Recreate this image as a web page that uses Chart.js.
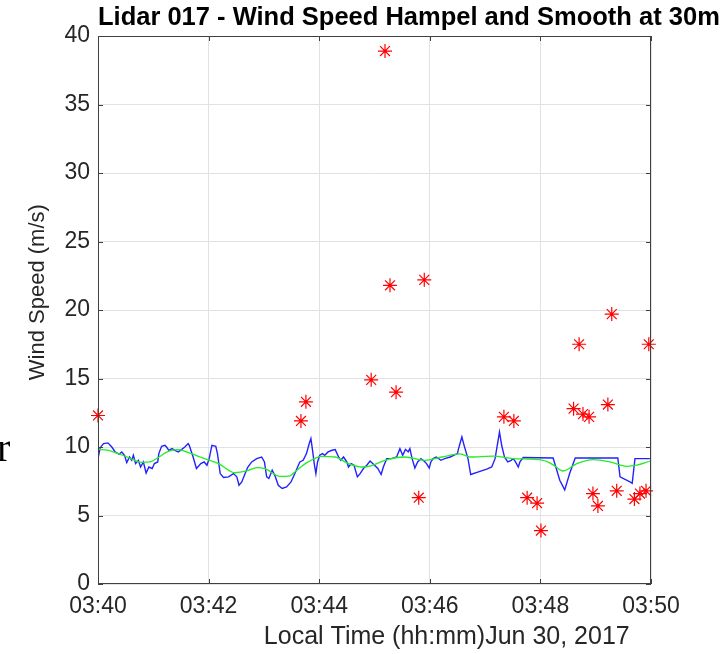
<!DOCTYPE html>
<html>
<head>
<meta charset="utf-8">
<script src="https://cdn.jsdelivr.net/npm/chart.js@4/dist/chart.umd.min.js"></script>
<style>
html, body { margin: 0; padding: 0; background: #fff; }
#wrap { width: 728px; height: 654px; }
</style>
</head>
<body>
<div id="wrap"><canvas id="windChart" width="728" height="654"></canvas></div>
<script>
// ==========================
// DATA (time = minutes after 03:40)
// ==========================
const rawTime = [
    0.00, 0.04, 0.10, 0.18, 0.25, 0.31, 0.38, 0.43, 0.48, 0.52,
    0.57, 0.61, 0.64, 0.68, 0.73, 0.77, 0.82, 0.87, 0.92, 0.98,
    1.02, 1.08, 1.10, 1.15, 1.21, 1.24, 1.28, 1.34, 1.39, 1.45,
    1.51, 1.57, 1.63, 1.65, 1.72, 1.78, 1.86, 1.92, 1.97, 2.01,
    2.06, 2.13, 2.16, 2.21, 2.27, 2.36, 2.45, 2.51, 2.55, 2.60,
    2.66, 2.71, 2.78, 2.87, 2.96, 3.01, 3.05, 3.09, 3.15, 3.20,
    3.26, 3.33, 3.41, 3.49, 3.56, 3.61, 3.65, 3.71, 3.77, 3.82,
    3.85, 3.88, 3.91, 3.94, 3.97, 4.01, 4.06, 4.10, 4.16, 4.23,
    4.29, 4.35, 4.39, 4.44, 4.50, 4.53, 4.58, 4.63, 4.69, 4.74,
    4.80, 4.86, 4.92, 5.00, 5.06, 5.12, 5.16, 5.22, 5.31, 5.40,
    5.46, 5.51, 5.56, 5.61, 5.64, 5.68, 5.73, 5.78, 5.84, 5.90,
    5.94, 5.99, 6.02, 6.06, 6.12, 6.20, 6.27, 6.37, 6.44, 6.50,
    6.52, 6.58, 6.62, 6.69, 6.74, 6.88, 7.03, 7.12, 7.18, 7.23,
    7.26, 7.30, 7.35, 7.41, 7.47, 7.51, 7.55, 7.60, 7.63, 7.69,
    8.23, 8.35, 8.44, 8.53, 8.63, 9.40, 9.44, 9.62, 9.66, 9.71, 9.98
];
const rawSpeed = [
    9.15, 9.95, 10.25, 10.3, 10.0, 9.64, 9.47, 9.64, 9.4, 8.86,
    9.27, 9.03, 9.4, 8.79, 9.03, 8.54, 8.91, 8.1, 8.54, 8.43,
    8.79, 8.91, 9.52, 10.05, 10.12, 10.0, 9.76, 9.88, 9.76, 9.64,
    9.81, 10.0, 10.25, 10.12, 9.27, 8.43, 8.79, 8.91, 8.67, 9.15,
    10.12, 10.05, 9.52, 8.06, 7.77, 7.82, 8.06, 7.82, 7.21, 7.45,
    8.06, 8.54, 8.91, 9.15, 9.27, 8.91, 7.82, 7.7, 8.3, 7.9,
    7.21, 6.97, 7.09, 7.45, 8.06, 8.54, 8.91, 9.03, 9.52, 10.25,
    10.61, 9.76, 8.79, 8.06, 8.91, 9.4, 9.52, 9.4, 9.64, 9.76,
    9.81, 9.27, 9.03, 9.27, 8.91, 8.54, 8.79, 8.67, 7.82, 8.06,
    8.43, 8.67, 8.97, 8.67, 8.43, 7.99, 8.54, 9.15, 9.15, 9.27,
    9.88, 9.4, 9.83, 9.64, 9.88, 9.15, 8.47, 8.91, 9.15, 8.96,
    8.79, 8.47, 8.91, 9.15, 9.27, 9.03, 9.15, 9.27, 9.4, 9.52,
    9.88, 10.73, 10.12, 9.15, 7.99, 8.18, 8.38, 8.54, 9.15, 10.36,
    11.09, 10.12, 9.27, 8.91, 9.03, 9.15, 8.91, 8.54, 8.91, 9.23,
    9.2, 7.57, 6.87, 8.08, 9.2, 9.2, 7.82, 7.45, 7.35, 9.15, 9.15
];

const smoothTime = [
    0.00, 0.19, 0.37, 0.55, 0.79, 0.94, 1.09, 1.27, 1.45, 1.66,
    1.93, 2.18, 2.48, 2.69, 2.87, 3.02, 3.29, 3.47, 3.56, 3.80,
    4.05, 4.29, 4.53, 4.77, 4.92, 5.19, 5.55, 5.91, 6.22, 6.55,
    6.73, 7.15, 7.51, 8.05, 8.23, 8.41, 8.66, 8.96, 9.26, 9.56,
    9.74, 9.98
];
const smoothSpeed = [
    9.82, 9.76, 9.52, 9.23, 8.88, 8.91, 9.23, 9.68, 9.81, 9.55,
    9.15, 8.79, 8.12, 8.25, 8.5, 8.43, 7.85, 7.9, 8.18, 8.91,
    9.32, 9.27, 8.79, 8.54, 8.6, 9.03, 9.27, 9.03, 9.27, 9.5,
    9.27, 9.33, 9.15, 9.03, 8.7, 8.25, 8.79, 9.08, 8.91, 8.59,
    8.67, 8.96
];

const outlierTime = [
    0.00, 5.19, 5.28, 5.90, 4.94, 5.39, 3.76, 3.67, 5.80, 7.34,
    7.52, 7.76, 7.94, 8.01, 8.60, 8.77, 8.88, 8.70, 9.29, 9.96,
    9.22, 8.95, 9.04, 9.38, 9.70, 9.80, 9.91
];
const outlierSpeed = [
    12.3, 38.9, 21.8, 22.2, 14.9, 14.0, 13.3, 11.9, 6.3, 12.2,
    11.9, 6.3, 5.9, 3.9, 12.8, 12.4, 12.2, 17.5, 19.7, 17.5,
    13.1, 6.6, 5.7, 6.8, 6.2, 6.6, 6.8
];

const xTicks = [0, 2, 4, 6, 8, 10];
const xTickLabels = ["03:40", "03:42", "03:44", "03:46", "03:48", "03:50"];
const yTicks = [0, 5, 10, 15, 20, 25, 30, 35, 40];

const titleText = "Lidar 017 - Wind Speed Hampel and Smooth at 30m";
const xTitleText = "Local Time (hh:mm)";
const dateText = "Jun 30, 2017";
const yTitleText = "Wind Speed (m/s)";
const strayText = "r";

// ==========================
// HELPERS
// ==========================
const toPoints = (xs, ys) => xs.map((x, i) => ({ x, y: ys[i] }));
const FONT = '"Liberation Sans", Arial, sans-serif';
const TEXT_COLOR = "#262626";

// frame, inward ticks, title, labels, date and stray glyph
const framePlugin = {
    id: "frame",
    afterDraw(chart) {
        const { ctx, chartArea: a, scales } = chart;
        const x = scales.x, y = scales.y;
        ctx.save();
        ctx.strokeStyle = "#404040";
        ctx.lineWidth = 1;
        ctx.strokeRect(Math.round(a.left) + 0.5, Math.round(a.top) + 0.5,
            Math.round(a.width) - 1, Math.round(a.height) - 1);
        ctx.beginPath();
        xTicks.forEach(v => {
            const px = Math.round(x.getPixelForValue(v)) + 0.5;
            ctx.moveTo(px, a.bottom); ctx.lineTo(px, a.bottom - 5);
            ctx.moveTo(px, a.top); ctx.lineTo(px, a.top + 5);
        });
        yTicks.forEach(v => {
            const py = Math.round(y.getPixelForValue(v)) + 0.5;
            ctx.moveTo(a.left, py); ctx.lineTo(a.left + 5, py);
            ctx.moveTo(a.right, py); ctx.lineTo(a.right - 5, py);
        });
        ctx.stroke();

        // title, left-aligned with the plot box
        ctx.font = "bold 25.5px " + FONT;
        ctx.fillStyle = "#000";
        ctx.textAlign = "left";
        ctx.textBaseline = "middle";
        ctx.fillText(titleText, a.left, a.top / 2);

        // y label (sits a bit above the axis middle, as in the original)
        ctx.save();
        ctx.translate(38, y.getPixelForValue(21.3));
        ctx.rotate(-Math.PI / 2);
        ctx.font = "22px " + FONT;
        ctx.fillStyle = TEXT_COLOR;
        ctx.textAlign = "center";
        ctx.fillText(yTitleText, 0, 0);
        ctx.restore();

        // x label + date
        ctx.font = "25px " + FONT;
        const labelW = ctx.measureText(xTitleText).width;
        const cx = (a.left + a.right) / 2;
        ctx.fillStyle = TEXT_COLOR;
        ctx.textAlign = "center";
        ctx.fillText(xTitleText, cx, x.bottom - 17);
        ctx.textAlign = "left";
        ctx.fillText(dateText, cx + labelW / 2, x.bottom - 17);

        // cut-off glyph at the left edge
        ctx.font = "40px \"Liberation Serif\", serif";
        ctx.fillStyle = "#000";
        ctx.textBaseline = "alphabetic";
        ctx.fillText(strayText, -3, y.getPixelForValue(9));
        ctx.restore();
    }
};

// ==========================
// CHART
// ==========================
new Chart(document.getElementById("windChart"), {
    type: "line",
    data: {
        datasets: [
            {
                label: "Outliers",
                data: toPoints(outlierTime, outlierSpeed),
                showLine: false,
                pointStyle: "star",
                pointRadius: 7,
                pointBorderColor: "#ff0000",
                pointBorderWidth: 1.2,
                pointBackgroundColor: "#ff0000",
                clip: false
            },
            {
                label: "Smooth",
                data: toPoints(smoothTime, smoothSpeed),
                borderColor: "#22ee22",
                borderWidth: 1.3,
                pointRadius: 0,
                cubicInterpolationMode: "monotone"
            },
            {
                label: "Hampel",
                data: toPoints(rawTime, rawSpeed),
                borderColor: "#2222ff",
                borderWidth: 1.4,
                pointRadius: 0,
                tension: 0
            }
        ]
    },
    options: {
        responsive: false,
        animation: false,
        devicePixelRatio: 1,
        layout: { padding: { left: 0, right: 77, top: 36, bottom: 0 } },
        plugins: {
            legend: { display: false },
            tooltip: { enabled: false },
            title: { display: false }
        },
        scales: {
            x: {
                type: "linear",
                min: 0,
                max: 10,
                afterBuildTicks: s => { s.ticks = xTicks.map(v => ({ value: v })); },
                afterFit: s => { s.height = 70; },
                ticks: {
                    color: TEXT_COLOR,
                    font: { family: FONT, size: 23 },
                    padding: 9,
                    maxRotation: 0,
                    callback: v => xTickLabels[xTicks.indexOf(v)]
                },
                grid: { color: "#e2e2e2", drawTicks: false },
                border: { display: false }
            },
            y: {
                min: 0,
                max: 40,
                afterBuildTicks: s => { s.ticks = yTicks.map(v => ({ value: v })); },
                afterFit: s => { s.width = 98; },
                ticks: {
                    color: TEXT_COLOR,
                    font: { family: FONT, size: 23 },
                    padding: 8
                },
                grid: { color: "#e2e2e2", drawTicks: false },
                border: { display: false }
            }
        }
    },
    plugins: [framePlugin]
});
</script>
</body>
</html>
